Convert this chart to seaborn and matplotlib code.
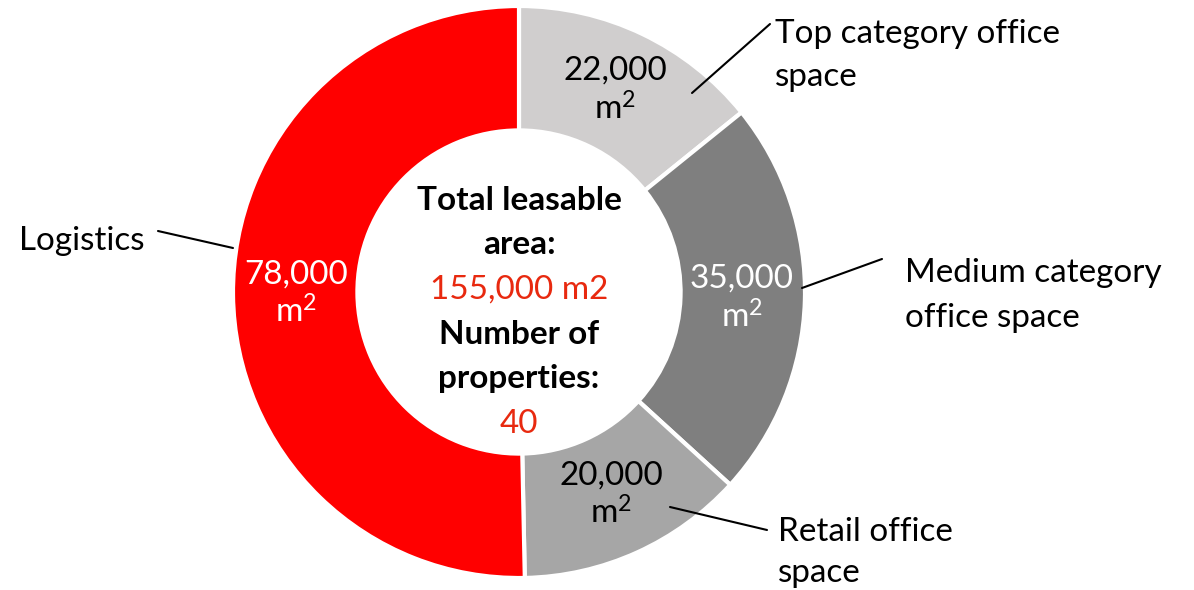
import matplotlib
matplotlib.use("Agg")
import matplotlib.pyplot as plt
import matplotlib.transforms as mtransforms
import seaborn as sns
import numpy as np

# ---- data ----
categories = ["Top category office space", "Medium category office space",
              "Retail office space", "Logistics"]
values = [22000, 35000, 20000, 78000]
value_labels = ["22,000", "35,000", "20,000", "78,000"]
unit_label = r"m$^{2}$"
label_lines = [["Top category office", "space"],
               ["Medium category", "office space"],
               ["Retail office", "space"],
               ["Logistics"]]
center_lines = ["Total leasable", "area:", "155,000 m2", "Number of", "properties:", "40"]

# ---- style ----
colors = ["#D0CECE", "#7F7F7F", "#A6A6A6", "#FF0000"]
value_text_colors = ["black", "white", "black", "white"]
center_colors = ["black", "black", "#E8290F", "black", "black", "#E8290F"]
center_weights = ["bold", "bold", "normal", "bold", "bold", "normal"]

sns.set_theme(style="white")
plt.rcParams['font.family'] = ['Lato', 'DejaVu Sans']
plt.rcParams['mathtext.fontset'] = 'custom'
plt.rcParams['mathtext.rm'] = 'Lato'
plt.rcParams['mathtext.it'] = 'Lato:italic'
plt.rcParams['mathtext.bf'] = 'Lato:bold'
plt.rcParams['mathtext.default'] = 'regular'

W, H = 1194, 590
fig = plt.figure(figsize=(W / 100, H / 100), dpi=100)
cx, cy, R = 519, 292, 286
ax = fig.add_axes([(cx - R) / W, (H - cy - R) / H, 2 * R / W, 2 * R / H])

wedges, _ = ax.pie(values, colors=colors, startangle=90, counterclock=False,
                   radius=1.0,
                   wedgeprops=dict(width=0.435, edgecolor="white", linewidth=3))
ax.set_xlim(-1, 1)
ax.set_ylim(-1, 1)
ax.set_aspect("equal")
ax.axis("off")

# fit font size so that reference string has the reference width
probe = fig.text(0, 0, "Top category office", fontsize=24)
fig.canvas.draw()
wpx = probe.get_window_extent().width
probe.remove()
fs = 24 * 285.0 / wpx


def fig_xy(px, py):
    return px / W, 1 - py / H


# value labels at wedge mid-angles
for w, lab, tc in zip(wedges, value_labels, value_text_colors):
    ang = np.deg2rad((w.theta1 + w.theta2) / 2)
    r = 0.78
    x, y = r * np.cos(ang), r * np.sin(ang)
    t1 = mtransforms.offset_copy(ax.transData, fig=fig, x=0, y=11, units="dots")
    t2 = mtransforms.offset_copy(ax.transData, fig=fig, x=0, y=-29, units="dots")
    ax.text(x, y, lab, transform=t1, ha="center", va="baseline", fontsize=fs, color=tc)
    ax.text(x, y, unit_label, transform=t2, ha="center", va="baseline", fontsize=fs, color=tc)

# center text
center_baselines = [210, 254, 299, 344, 388, 433]
for txt, yb, c, fw in zip(center_lines, center_baselines, center_colors, center_weights):
    fig.text(*fig_xy(519, yb), txt, ha="center", va="baseline", fontsize=fs,
             color=c, fontweight=fw)

# outer labels
label_pos = [(775, [43, 86], "left"),
             (905, [282, 327], "left"),
             (778, [541, 582], "left"),
             (145, [250], "right")]
for lines, (lx, ybs, ha) in zip(label_lines, label_pos):
    for txt, yb in zip(lines, ybs):
        fig.text(*fig_xy(lx, yb), txt, ha=ha, va="baseline", fontsize=fs, color="black")

# leader lines
leaders = [((692, 93), (770, 24)),
           ((802, 288), (882, 259)),
           ((670, 507), (767, 530)),
           ((158, 231), (233, 248))]
for (x0, y0), (x1, y1) in leaders:
    fig.add_artist(plt.Line2D([x0 / W, x1 / W], [1 - y0 / H, 1 - y1 / H],
                              transform=fig.transFigure, color="black", lw=1.5))

fig.savefig("out.png", dpi=100)
